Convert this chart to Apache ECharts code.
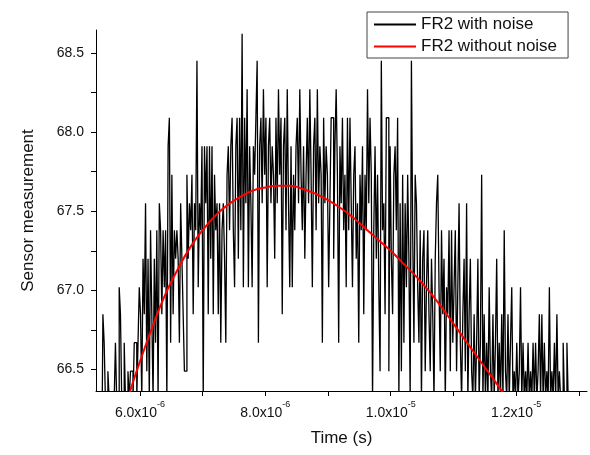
<!DOCTYPE html>
<html>
<head>
<meta charset="utf-8">
<script src="https://cdn.jsdelivr.net/npm/echarts@6/dist/echarts.min.js"></script>
<style>
html,body{margin:0;padding:0;background:#fff;}
#chart{width:590px;height:455px;}
</style>
</head>
<body>
<div id="chart"></div>
<script>
// Noisy signal: evenly sampled, start time and sample step (seconds)
const noiseStart = 5.32e-6;
const noiseStep = 2e-8;
const noiseValues = [
66.31,66.31,66.31,66.31,66.31,66.85,66.67,66.31,
66.31,66.49,66.31,66.31,66.31,66.31,66.31,66.67,
66.31,66.31,67.02,66.85,66.31,66.31,66.67,66.31,
66.31,66.49,66.31,66.49,66.49,66.31,66.67,66.67,
66.31,66.67,67.02,66.85,66.31,67.20,66.85,67.55,
66.49,67.20,66.31,67.38,66.85,66.31,67.20,66.67,
67.38,66.31,67.55,67.38,66.85,67.38,67.02,67.38,
66.31,67.91,68.09,66.67,67.73,66.85,67.38,67.20,
67.38,67.20,66.67,67.55,67.20,66.85,66.49,66.49,
67.73,67.20,67.55,67.38,67.73,66.85,67.55,67.38,
68.45,67.02,67.55,67.38,67.91,66.31,67.91,67.55,
67.91,66.85,67.91,67.20,67.91,66.85,67.73,67.38,
67.55,66.85,67.55,66.67,67.38,67.55,67.20,66.67,
67.73,67.91,67.38,67.91,68.09,67.38,67.02,67.91,
68.09,67.20,68.09,67.38,68.62,67.02,68.09,67.55,
68.27,67.02,67.91,67.55,67.02,67.91,67.73,68.09,
68.45,66.67,67.91,68.09,67.55,68.27,67.73,68.09,
67.02,67.91,68.09,67.55,67.91,67.73,67.20,68.09,
67.55,68.27,67.73,68.09,66.85,67.91,68.09,67.38,
68.27,67.55,67.02,67.91,67.02,67.73,67.38,67.91,
68.09,67.55,68.27,67.73,67.38,67.91,67.20,67.73,
68.09,67.55,68.27,67.73,67.02,67.91,68.09,67.38,
68.27,67.55,67.91,67.73,66.67,68.09,67.55,67.91,
67.73,67.02,67.55,68.09,68.09,67.20,67.91,68.27,
67.73,66.67,67.91,67.55,68.09,67.38,67.73,67.02,
68.09,67.38,68.09,67.55,67.02,67.73,67.91,67.20,
67.55,66.67,67.73,67.38,67.91,66.85,67.73,67.38,
68.27,67.55,68.09,67.73,66.31,67.38,67.91,67.20,
67.73,67.02,66.49,68.45,67.38,67.55,66.85,68.09,
68.09,66.49,67.91,67.20,66.85,67.73,67.91,67.38,
68.09,66.31,67.55,66.49,67.73,66.67,67.55,67.02,
67.73,67.20,66.31,68.45,67.38,66.67,67.73,67.55,
67.02,66.67,67.38,66.31,67.20,67.38,66.49,67.02,
67.38,66.85,66.49,67.20,66.85,66.31,67.20,67.55,
67.73,67.02,66.49,67.38,66.85,67.20,66.31,67.02,
66.85,67.38,66.49,67.38,66.67,67.02,67.38,66.49,
67.02,67.55,66.67,66.31,66.85,67.20,66.49,67.55,
66.31,66.85,67.20,66.49,66.31,66.85,66.31,66.67,
67.20,66.31,66.67,67.73,66.31,66.85,66.31,66.67,
66.31,67.02,66.49,66.31,66.85,66.31,66.67,67.20,
66.31,66.67,66.31,66.85,66.31,67.38,66.49,66.31,
66.85,66.31,66.67,67.02,66.31,66.49,66.31,66.67,
66.31,66.49,67.02,66.31,66.67,66.31,66.49,66.31,
66.67,66.31,66.49,66.31,66.67,66.31,66.67,66.31,
66.49,66.85,66.31,66.85,66.31,66.67,66.31,66.49,
66.31,67.02,66.31,66.49,66.31,66.67,66.31,66.85,
66.31,66.49,66.31,66.31,66.67,66.31,66.31,66.67,
66.31
];

// Noise-free signal (red curve)
const cleanTimes = [5.84e-6,6.0e-6,6.2e-6,6.4e-6,6.6e-6,6.8e-6,7.0e-6,7.2e-6,7.4e-6,7.6e-6,7.8e-6,8.0e-6,8.2e-6,8.4e-6,8.6e-6,8.8e-6,9.0e-6,9.2e-6,9.4e-6,9.6e-6,9.8e-6,1.0e-5,1.02e-5,1.04e-5,1.06e-5,1.08e-5,1.1e-5,1.12e-5,1.14e-5,1.16e-5,1.18e-5];
const cleanValues = [66.36,66.55,66.77,66.97,67.13,67.27,67.38,67.47,67.54,67.59,67.63,67.65,67.66,67.66,67.64,67.61,67.57,67.52,67.46,67.39,67.32,67.25,67.17,67.09,67.00,66.90,66.79,66.68,66.57,66.46,66.35];

const seriesNames = ['FR2 with noise','FR2 without noise'];

// Axis ticks and labels
const xTickValues = [6e-6,7e-6,8e-6,9e-6,1e-5,1.1e-5,1.2e-5,1.3e-5];
const xLabelValues = [6e-6,8e-6,1e-5,1.2e-5];
const xLabelMantissa = ['6.0x10','8.0x10','1.0x10','1.2x10'];
const xLabelExponent = ['-6','-6','-5','-5'];
const yTickValues = [66.5,66.75,67,67.25,67.5,67.75,68,68.25,68.5];
const yLabelValues = [66.5,67,67.5,68,68.5];

const noiseData = noiseValues.map((v,i)=>[noiseStart + i*noiseStep, v]);
const cleanData = cleanTimes.map((t,i)=>[t, cleanValues[i]]);

const FONT = 'Arial, "Liberation Sans", sans-serif';
const chart = echarts.init(document.getElementById('chart'), null, {renderer:'canvas'});
chart.setOption({
  animation:false,
  backgroundColor:'#fff',
  grid:{left:96,right:3,top:30,bottom:64},
  legend:{
    orient:'vertical', left:367, top:12,
    data:seriesNames,
    itemWidth:42, itemHeight:2, itemGap:5,
    padding:[4,11,3,6],
    borderColor:'#444', borderWidth:1,
    backgroundColor:'#fff',
    itemStyle:{opacity:0},
    textStyle:{fontFamily:FONT,fontSize:17,color:'#111'}
  },
  xAxis:{
    type:'value', min:5.3e-6, max:1.313e-5,
    name:'Time (s)', nameLocation:'middle', nameGap:39,
    nameTextStyle:{fontFamily:FONT,fontSize:17,color:'#111'},
    axisLine:{lineStyle:{color:'#000',width:1}},
    axisTick:{show:true,length:5,customValues:xTickValues,lineStyle:{color:'#000'}},
    splitLine:{show:false},
    axisLabel:{
      customValues:xLabelValues, margin:9,
      formatter:function(v){
        let idx=-1;
        for(let k=0;k<xLabelValues.length;k++){ if(Math.abs(xLabelValues[k]-v)<1e-12) idx=k; }
        if(idx<0) return '';
        return '{m|'+xLabelMantissa[idx]+'}{e|'+xLabelExponent[idx]+'}';
      },
      rich:{
        m:{fontFamily:FONT,fontSize:14,color:'#111',lineHeight:20,verticalAlign:'bottom'},
        e:{fontFamily:FONT,fontSize:9,color:'#111',lineHeight:10,verticalAlign:'top'}
      }
    }
  },
  yAxis:{
    type:'value', min:66.365, max:68.644,
    name:'Sensor measurement', nameLocation:'middle', nameGap:59, nameRotate:90,
    nameTextStyle:{fontFamily:FONT,fontSize:17,color:'#111'},
    axisLine:{show:true,lineStyle:{color:'#000',width:1}},
    axisTick:{show:true,length:5,customValues:yTickValues,lineStyle:{color:'#000'}},
    splitLine:{show:false},
    axisLabel:{
      customValues:yLabelValues, margin:12,
      fontFamily:FONT,fontSize:14,color:'#111',
      formatter:function(v){return v.toFixed(1);}
    }
  },
  series:[
    {name:seriesNames[0],type:'line',data:noiseData,symbol:'none',step:'middle',clip:true,
     lineStyle:{color:'#000',width:1.3},itemStyle:{color:'#000'},z:2},
    {name:seriesNames[1],type:'line',data:cleanData,symbol:'none',smooth:true,clip:true,
     lineStyle:{color:'#ff0000',width:2},itemStyle:{color:'#ff0000'},z:3}
  ]
});
</script>
</body>
</html>
